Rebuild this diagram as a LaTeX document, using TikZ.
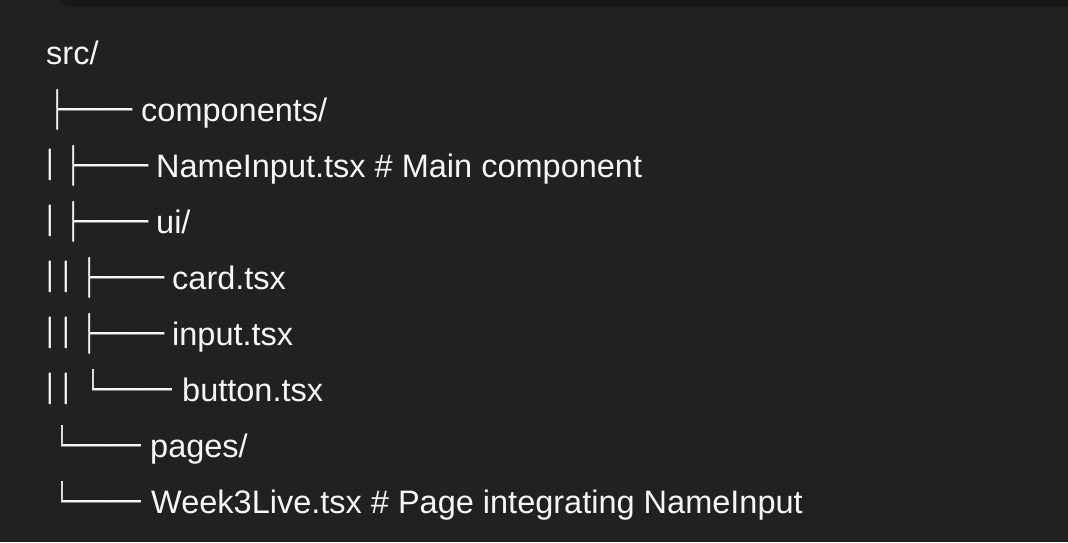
\documentclass[tikz,border=0pt]{standalone}
\usepackage{fontspec}
\setmainfont{Liberation Sans}
\newfontfamily\cjk[FakeBold=1.6]{Noto Sans CJK SC}
\usepackage{tikz}
\definecolor{bg}{HTML}{212121}
\definecolor{bar}{HTML}{181818}
\definecolor{ink}{HTML}{F6F6F6}
\newcommand\twig[1]{\raisebox{-3.5pt}{\scalebox{1}[1.33]{#1}}}
\newcommand\elbow[1]{\raisebox{-3.5pt}{\scalebox{1.05}[1.33]{#1}}}
\newcommand\vpipe{\raisebox{4pt}{\scalebox{0.85}[1.05]{|}}}

\begin{document}
\begin{tikzpicture}[x=1pt,y=-1pt,
 item/.style={anchor=base west, inner sep=0pt, text=ink, font=\fontsize{32.5}{38}\selectfont},
 pipe/.style={anchor=base, inner sep=0pt, text=ink, font=\fontsize{32}{38}\selectfont},
 branch/.style={anchor=base west, inner sep=0pt, text=ink, font=\cjk\fontsize{30}{36}\selectfont}]
\coordinate (tl) at (0,0);
\coordinate (br) at (1068,542);
\useasboundingbox (tl) rectangle (br);
\clip (tl) rectangle (br);
 \fill[bg] (tl) rectangle (br);
 \fill[bar, rounded corners=12pt] (57,-20) rectangle (1090,7);
 \node[item] (src) at (46,64) {src/};
 \node[branch] (b1) at (42,121) {\twig{├──}};
 \node[item] (components) at (141,121) {components/};
 \node[pipe] (p2) at (50,177) {\vpipe};
 \node[branch] (b2) at (58,177) {\twig{├──}};
 \node[item] (nameinput) at (156,177) {NameInput.tsx \# Main component};
 \node[pipe] (p3) at (50,233) {\vpipe};
 \node[branch] (b3) at (58,233) {\twig{├──}};
 \node[item] (ui) at (156,233) {ui/};
 \node[pipe] (p4a) at (50,289) {\vpipe};
 \node[pipe] (p4b) at (66,289) {\vpipe};
 \node[branch] (b4) at (74,289) {\twig{├──}};
 \node[item] (card) at (172,289) {card.tsx};
 \node[pipe] (p5a) at (50,345) {\vpipe};
 \node[pipe] (p5b) at (66,345) {\vpipe};
 \node[branch] (b5) at (74,345) {\twig{├──}};
 \node[item] (input) at (172,345) {input.tsx};
 \node[pipe] (p6a) at (50,401) {\vpipe};
 \node[pipe] (p6b) at (66,401) {\vpipe};
 \node[branch] (b6) at (77,401) {\elbow{└──}};
 \node[item] (button) at (182,401) {button.tsx};
 \node[branch] (b7) at (46,457) {\elbow{└──}};
 \node[item] (pages) at (150,457) {pages/};
 \node[branch] (b8) at (46,513) {\elbow{└──}};
 \node[item] (week) at (151,513) {Week3Live.tsx \# Page integrating NameInput};
\end{tikzpicture}
\end{document}
